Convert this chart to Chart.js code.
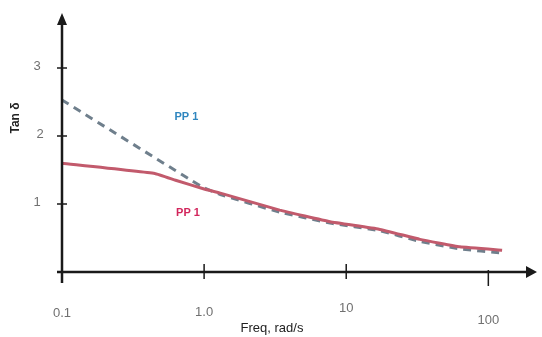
<!DOCTYPE html>
<html>
<head>
<meta charset="utf-8">
<script src="https://cdn.jsdelivr.net/npm/chart.js@4/dist/chart.umd.min.js"></script>
<style>
  html, body { margin: 0; padding: 0; background: #fff; }
  #wrap { width: 542px; height: 337px; position: relative; }
</style>
</head>
<body>
<div id="wrap"><canvas id="c"></canvas></div>
<script>
// Data (freq in rad/s, tan delta)
const freqTicks = [0.1, 1, 10, 100];
const freqLabels = ['0.1', '1.0', '10', '100'];
const tanTicks = [1, 2, 3];

const solidFreq = [0.1, 0.45, 0.63, 1.0, 1.3, 3.4, 7.7, 17, 33, 63, 125];
const solidTan  = [1.6, 1.45, 1.35, 1.22, 1.16, 0.91, 0.74, 0.63, 0.48, 0.37, 0.32];

const dashFreq = [0.1, 0.97, 1.3, 3.4, 7.7, 17, 33, 63, 125];
const dashTan  = [2.53, 1.25, 1.14, 0.88, 0.72, 0.61, 0.45, 0.34, 0.28];

const labelBlue = { text: 'PP 1', x: 0.75, y: 2.28, color: '#2f86bf' };
const labelRed  = { text: 'PP 1', x: 0.77, y: 0.87, color: '#d2265c' };

const toPts = (xs, ys) => xs.map((x, i) => ({ x, y: ys[i] }));

// axes with arrows, crossing ticks, annotations
const axesPlugin = {
  id: 'axesPlugin',
  afterDatasetsDraw(chart) {
    const { ctx, chartArea: a, scales: { x, y } } = chart;
    const x0 = x.getPixelForValue(0.1);
    const y0 = y.getPixelForValue(0);
    ctx.save();
    ctx.strokeStyle = '#1a1a1a';
    ctx.fillStyle = '#1a1a1a';
    ctx.lineWidth = 2.5;
    ctx.beginPath();
    ctx.moveTo(x0 - 5, y0); ctx.lineTo(a.right - 4, y0);
    ctx.moveTo(x0, y0 + 11); ctx.lineTo(x0, a.top + 6);
    ctx.stroke();
    // arrowheads
    ctx.beginPath();
    ctx.moveTo(a.right + 2, y0); ctx.lineTo(a.right - 9, y0 - 6); ctx.lineTo(a.right - 9, y0 + 6); ctx.closePath();
    ctx.moveTo(x0, a.top - 2); ctx.lineTo(x0 - 5, a.top + 10); ctx.lineTo(x0 + 5, a.top + 10); ctx.closePath();
    ctx.fill();
    // ticks
    ctx.lineWidth = 1.5;
    ctx.beginPath();
    freqTicks.forEach((v, i) => {
      if (i === 0) return;
      const px = x.getPixelForValue(v);
      const up = i === 3 ? 2 : 8;
      const dn = i === 3 ? 14 : 7;
      ctx.moveTo(px, y0 - up); ctx.lineTo(px, y0 + dn);
    });
    tanTicks.forEach(v => {
      const py = y.getPixelForValue(v);
      ctx.moveTo(x0 - 5, py); ctx.lineTo(x0 + 5, py);
    });
    ctx.stroke();
    // tick labels
    ctx.fillStyle = '#707070';
    ctx.font = '13px "Liberation Sans Narrow", "Liberation Sans", sans-serif';
    ctx.textAlign = 'center';
    ctx.textBaseline = 'middle';
    const xOff = [41, 40, 36, 48];
    freqTicks.forEach((v, i) => {
      ctx.fillText(freqLabels[i], x.getPixelForValue(v), y0 + xOff[i]);
    });
    const yOff = [25, 22, 25];
    tanTicks.forEach((v, i) => {
      ctx.fillText(String(v), x0 - yOff[i], y.getPixelForValue(v) - 2);
    });
    // axis titles
    ctx.fillStyle = '#222';
    ctx.font = '13px "Liberation Sans Narrow", "Liberation Sans", sans-serif';
    ctx.fillText('Freq, rad/s', 272, y0 + 56);
    ctx.save();
    ctx.translate(16, 118);
    ctx.rotate(-Math.PI / 2);
    ctx.font = 'bold 12px "Liberation Sans Narrow", "Liberation Sans", sans-serif';
    ctx.fillText('Tan δ', 0, 0);
    ctx.restore();
    // series labels
    ctx.font = 'bold 11px "Liberation Sans Narrow", "Liberation Sans", sans-serif';
    [labelBlue, labelRed].forEach(l => {
      ctx.fillStyle = l.color;
      ctx.fillText(l.text, x.getPixelForValue(l.x), y.getPixelForValue(l.y));
    });
    ctx.restore();
  }
};

new Chart(document.getElementById('c'), {
  type: 'line',
  data: {
    datasets: [
      {
        label: 'PP 1 (solid)',
        data: toPts(solidFreq, solidTan),
        borderColor: '#c25a6c',
        borderWidth: 3,
        pointRadius: 0,
        tension: 0.1
      },
      {
        label: 'PP 1 (dashed)',
        data: toPts(dashFreq, dashTan),
        borderColor: '#6f7f8c',
        borderWidth: 3,
        borderDash: [8, 6],
        pointRadius: 0,
        tension: 0.1
      }
    ]
  },
  options: {
    responsive: true,
    maintainAspectRatio: false,
    animation: false,
    layout: { padding: { top: 15, right: 7, left: 0, bottom: 0 } },
    plugins: { legend: { display: false }, tooltip: { enabled: false } },
    scales: {
      x: {
        type: 'logarithmic',
        min: 0.1,
        max: 213,
        grid: { display: false },
        border: { display: false },
        ticks: { display: false },
        afterFit: s => { s.height = 65; }
      },
      y: {
        min: 0,
        max: 3.78,
        grid: { display: false },
        border: { display: false },
        ticks: { display: false },
        afterFit: s => { s.width = 62; }
      }
    }
  },
  plugins: [axesPlugin]
});
</script>
</body>
</html>
